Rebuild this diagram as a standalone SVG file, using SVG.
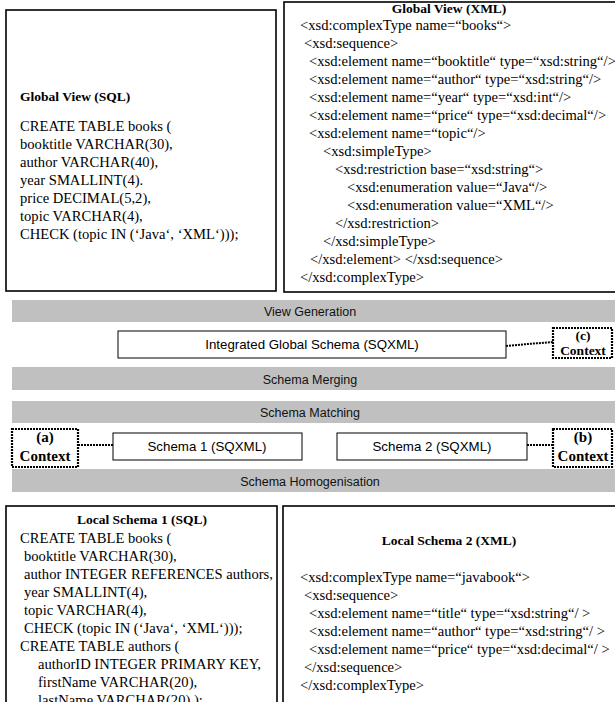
<svg xmlns="http://www.w3.org/2000/svg" width="615" height="702" viewBox="0 0 615 702">
<style>
.box{fill:#fff;stroke:#000;stroke-width:1.6}
.sbox{fill:#fff;stroke:#000;stroke-width:1}
.band{fill:#c0c0c0}
.btxt{font-family:"Liberation Sans",Arial,sans-serif;font-size:12.5px;fill:#111;text-anchor:middle}
.t{font-family:"Liberation Serif","Times New Roman",serif;font-size:14.6px;fill:#000}
.tb{font-family:"Liberation Serif","Times New Roman",serif;font-size:13.5px;font-weight:bold;fill:#000}
.cb{font-family:"Liberation Serif","Times New Roman",serif;font-size:15px;font-weight:bold;fill:#000;text-anchor:middle}
.cs{font-size:13.5px}
.ctx{fill:#fff;stroke:#000;stroke-width:2.2;stroke-dasharray:2 1}
.conn{stroke:#000;stroke-width:2;stroke-dasharray:2 1;fill:none}
.sq{font-family:"Liberation Sans",Arial,sans-serif;font-size:13.3px;fill:#000;text-anchor:middle}
</style>
<rect width="615" height="702" fill="#fff"/>

<g id="global-view-sql">
<rect class="box" x="6" y="10" width="270" height="281"/>
<text class="tb" x="20" y="101">Global View (SQL)</text>
<text class="t" x="20" y="131">CREATE TABLE books (</text>
<text class="t" x="20" y="149">booktitle VARCHAR(30),</text>
<text class="t" x="20" y="167">author VARCHAR(40),</text>
<text class="t" x="20" y="185">year SMALLINT(4).</text>
<text class="t" x="20" y="203">price DECIMAL(5,2),</text>
<text class="t" x="20" y="221">topic VARCHAR(4),</text>
<text class="t" x="20" y="239">CHECK (topic IN (‘Java‘, ‘XML‘)));</text>
</g>

<g id="global-view-xml">
<rect class="box" x="284" y="2" width="340" height="290"/>
<text class="tb" x="449" y="13" text-anchor="middle">Global View (XML)</text>
<text class="t" x="300" y="30">&lt;xsd:complexType name=“books“&gt;</text>
<text class="t" x="304" y="48">&lt;xsd:sequence&gt;</text>
<text class="t" x="309" y="66">&lt;xsd:element name=“booktitle“ type=“xsd:string“/&gt;</text>
<text class="t" x="309" y="84">&lt;xsd:element name=“author“ type=“xsd:string“/&gt;</text>
<text class="t" x="309" y="102">&lt;xsd:element name=“year“ type=“xsd:int“/&gt;</text>
<text class="t" x="309" y="120">&lt;xsd:element name=“price“ type=“xsd:decimal“/&gt;</text>
<text class="t" x="309" y="138">&lt;xsd:element name=“topic“/&gt;</text>
<text class="t" x="323" y="156">&lt;xsd:simpleType&gt;</text>
<text class="t" x="335" y="174">&lt;xsd:restriction base=“xsd:string“&gt;</text>
<text class="t" x="347" y="192">&lt;xsd:enumeration value=“Java“/&gt;</text>
<text class="t" x="347" y="210">&lt;xsd:enumeration value=“XML“/&gt;</text>
<text class="t" x="335" y="228">&lt;/xsd:restriction&gt;</text>
<text class="t" x="323" y="246">&lt;/xsd:simpleType&gt;</text>
<text class="t" x="310" y="264">&lt;/xsd:element&gt; &lt;/xsd:sequence&gt;</text>
<text class="t" x="300" y="282">&lt;/xsd:complexType&gt;</text>
</g>

<g id="band-view-generation">
<rect class="band" x="12" y="300" width="603" height="22"/>
<text class="btxt" x="310" y="316">View Generation</text>
</g>

<g id="integrated-global-schema">
<rect class="sbox" x="118" y="331" width="388" height="27"/>
<text class="sq" x="312" y="349">Integrated Global Schema (SQXML)</text>
</g>

<g id="context-c">
<rect class="ctx" x="553" y="328" width="59" height="30"/>
<text class="cb cs" x="583" y="340">(c)</text>
<text class="cb cs" x="583" y="355">Context</text>
</g>

<g id="band-schema-merging">
<rect class="band" x="12" y="367" width="603" height="23"/>
<text class="btxt" x="310" y="384">Schema Merging</text>
</g>

<g id="band-schema-matching">
<rect class="band" x="12" y="401" width="603" height="22"/>
<text class="btxt" x="310" y="417">Schema Matching</text>
</g>

<g id="context-a">
<rect class="ctx" x="12" y="429" width="66" height="38"/>
<text class="cb" x="45" y="442">(a)</text>
<text class="cb" x="45" y="461">Context</text>
</g>

<g id="schema-1">
<rect class="sbox" x="113" y="433" width="189" height="27"/>
<text class="sq" x="207" y="451">Schema 1  (SQXML)</text>
</g>

<g id="schema-2">
<rect class="sbox" x="337" y="433" width="190" height="27"/>
<text class="sq" x="432" y="451">Schema 2  (SQXML)</text>
</g>

<g id="context-b">
<rect class="ctx" x="553" y="429" width="59" height="38"/>
<text class="cb" x="583" y="442">(b)</text>
<text class="cb" x="583" y="461">Context</text>
</g>

<g id="band-schema-homogenisation">
<rect class="band" x="12" y="469" width="603" height="23"/>
<text class="btxt" x="310" y="486">Schema Homogenisation</text>
</g>

<g id="local-schema-1">
<rect class="box" x="6" y="506" width="271" height="210"/>
<text class="tb" x="142" y="524" text-anchor="middle">Local Schema 1 (SQL)</text>
<text class="t" x="20" y="543">CREATE TABLE books (</text>
<text class="t" x="24" y="561">booktitle VARCHAR(30),</text>
<text class="t" x="24" y="579">author INTEGER REFERENCES authors,</text>
<text class="t" x="24" y="597">year SMALLINT(4),</text>
<text class="t" x="24" y="615">topic VARCHAR(4),</text>
<text class="t" x="24" y="633">CHECK (topic IN (‘Java‘, ‘XML‘)));</text>
<text class="t" x="20" y="651">CREATE TABLE authors  (</text>
<text class="t" x="38" y="669">authorID INTEGER PRIMARY KEY,</text>
<text class="t" x="38" y="687">firstName VARCHAR(20),</text>
<text class="t" x="38" y="705">lastName  VARCHAR(20) );</text>
</g>

<g id="local-schema-2">
<rect class="box" x="283" y="506" width="340" height="210"/>
<text class="tb" x="449" y="545" text-anchor="middle">Local Schema  2 (XML)</text>
<text class="t" x="300" y="582">&lt;xsd:complexType name=“javabook“&gt;</text>
<text class="t" x="304" y="600">&lt;xsd:sequence&gt;</text>
<text class="t" x="309" y="618">&lt;xsd:element name=“title“ type=“xsd:string“/ &gt;</text>
<text class="t" x="309" y="636">&lt;xsd:element name=“author“ type=“xsd:string“/ &gt;</text>
<text class="t" x="309" y="654">&lt;xsd:element name=“price“ type=“xsd:decimal“/ &gt;</text>
<text class="t" x="304" y="672">&lt;/xsd:sequence&gt;</text>
<text class="t" x="300" y="690">&lt;/xsd:complexType&gt;</text>
</g>

<g id="connectors">
<path class="conn" d="M506,346 L528,344 L553,342"/>
<path class="conn" d="M78,445 L113,445"/>
<path class="conn" d="M527,445 L553,445"/>
</g>
</svg>
